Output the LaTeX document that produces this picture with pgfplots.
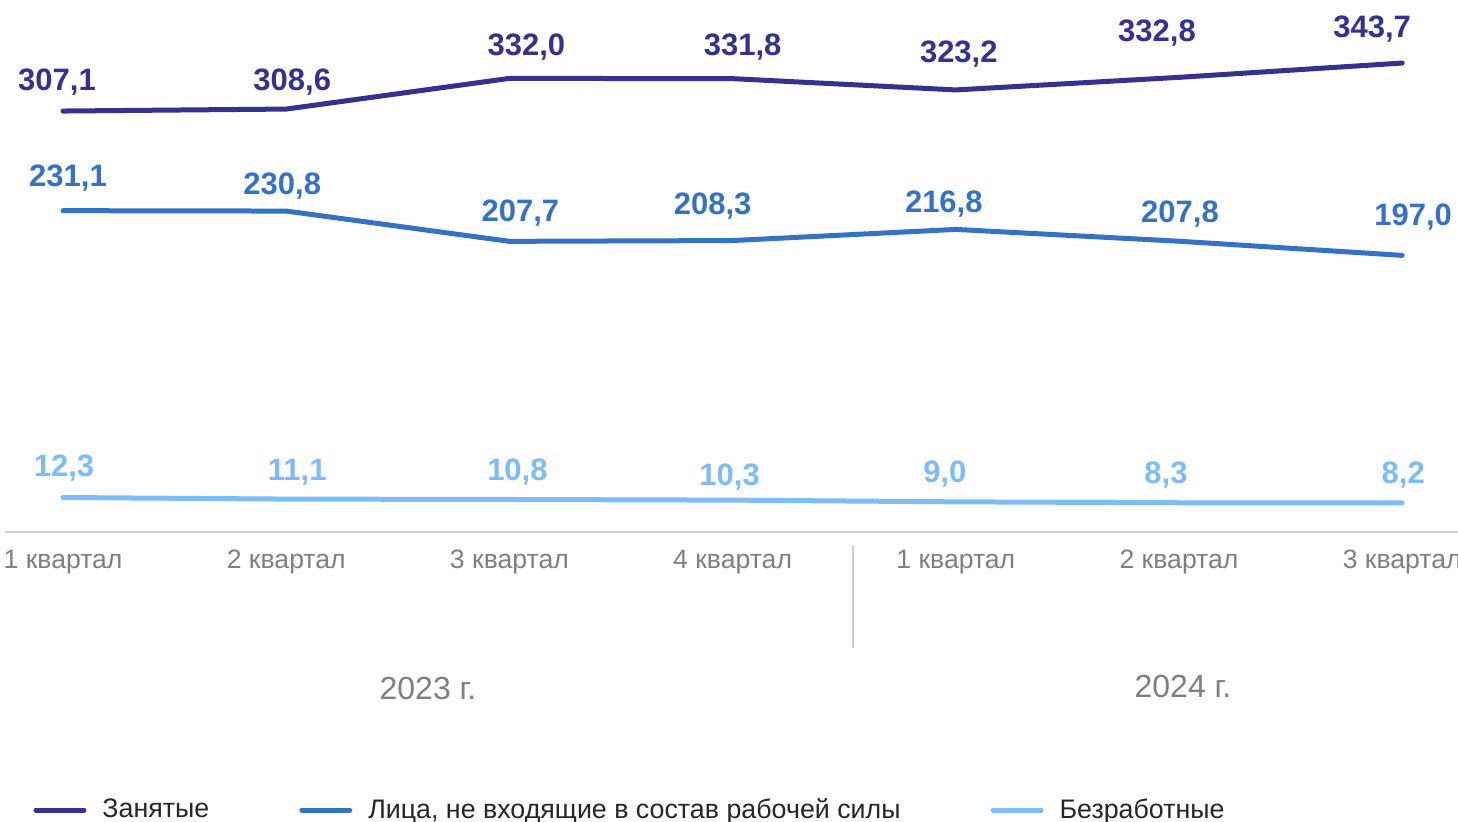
\documentclass[border=0pt]{standalone}
\usepackage{fontspec}
\setmainfont{Liberation Sans}
\usepackage{pgfplots}
\pgfplotsset{compat=1.18}
\definecolor{cA}{HTML}{35318F}
\definecolor{cB}{HTML}{3672C4}
\definecolor{cC}{HTML}{7FBBF7}
\definecolor{tickgray}{HTML}{7F7F7F}
\definecolor{axgray}{HTML}{D0D0D0}
\definecolor{legtext}{HTML}{262626}

\pgfplotstableread{
x y lab dx dy
0 307.1 307,1 -3 14.5
1 308.6 308,6 3 13.5
2 332.0 332,0 8.5 15.5
3 331.8 331,8 5 16
4 323.2 323,2 1.5 18
5 332.8 332,8 -11 22
6 343.7 343,7 -15 17
}\tabA
\pgfplotstableread{
x y lab dx dy
0 231.1 231,1 2.5 16.5
1 230.8 230,8 -2 12.5
2 207.7 207,7 5.5 14
3 208.3 208,3 -10 17
4 216.8 216,8 -6 12.75
5 207.8 207,8 0.5 13.5
6 197.0 197,0 5.5 19
}\tabB
\pgfplotstableread{
x y lab dx dy
0 12.3 12,3 0.5 14.8
1 11.1 11,1 5.5 13.6
2 10.8 10,8 4 13.8
3 10.3 10,3 -1.5 11.6
4 9.0 9,0 -5.5 14
5 8.3 8,3 -6.5 13.9
6 8.2 8,2 0.5 14
}\tabC

\pgfplotsset{
  lbl/.style={
    nodes near coords,
    point meta=explicit symbolic,
    visualization depends on={\thisrow{dx} \as \dx},
    visualization depends on={\thisrow{dy} \as \dy},
    every node near coord/.append style={font=\fontsize{15.5}{17}\selectfont\bfseries,
      text=#1, anchor=center, inner sep=0pt, xshift=\dx pt, yshift=\dy pt},
  },
}

\begin{document}
\begin{tikzpicture}
\begin{axis}[
  at={(0pt,0pt)}, anchor=south west,
  scale only axis, width=726.5pt, height=266pt,
  xmin=-0.26, xmax=6.25, ymin=-14, ymax=391.8,
  axis x line*=bottom, axis y line=none,
  x axis line style={draw=axgray, line width=0.75pt, -},
  xtick={0,1,2,3,4,5,6},
  xticklabels={1 квартал,2 квартал,3 квартал,4 квартал,1 квартал,2 квартал,3 квартал},
  major tick length=0pt,
  xticklabel style={font=\fontsize{13.3}{15}\selectfont, text=tickgray, anchor=center, yshift=-15pt},
  clip=false,
  legend columns=-1,
  legend style={draw=none, fill=none, at={(0.0193,-0.5226)}, anchor=west,
    font=\fontsize{13.4}{15}\selectfont, text=legtext, inner sep=0pt,
    /tikz/every odd column/.append style={column sep=6pt},
    /tikz/every even column/.append style={column sep=43pt},
    /tikz/column 4/.append style={column sep=37pt}},
  legend image code/.code={\draw[line width=2.5pt] (0pt,0pt) -- (24pt,0pt);},
]
\addplot[cA, line width=2.5pt, line cap=round, line join=round, lbl=cA] table[x=x,y=y,meta=lab]{\tabA};
\addlegendentry{Занятые}
\addplot[cB, line width=2.5pt, line cap=round, line join=round, lbl=cB] table[x=x,y=y,meta=lab]{\tabB};
\addlegendentry{Лица, не входящие в состав рабочей силы}
\addplot[cC, line width=2.5pt, line cap=round, line join=round, lbl=cC] table[x=x,y=y,meta=lab]{\tabC};
\addlegendentry{Безработные}
\end{axis}
\draw[axgray, line width=0.75pt] (424pt,-6.5pt) -- (424pt,-58pt);
\node[font=\fontsize{16}{18}\selectfont, text=tickgray] at (211.5pt,-78pt) {2023 г.};
\node[font=\fontsize{16}{18}\selectfont, text=tickgray] at (589pt,-77pt) {2024 г.};
\pgfresetboundingbox
\useasboundingbox (-2.5pt,-145pt) rectangle (726.5pt,266pt);
\end{tikzpicture}
\end{document}
